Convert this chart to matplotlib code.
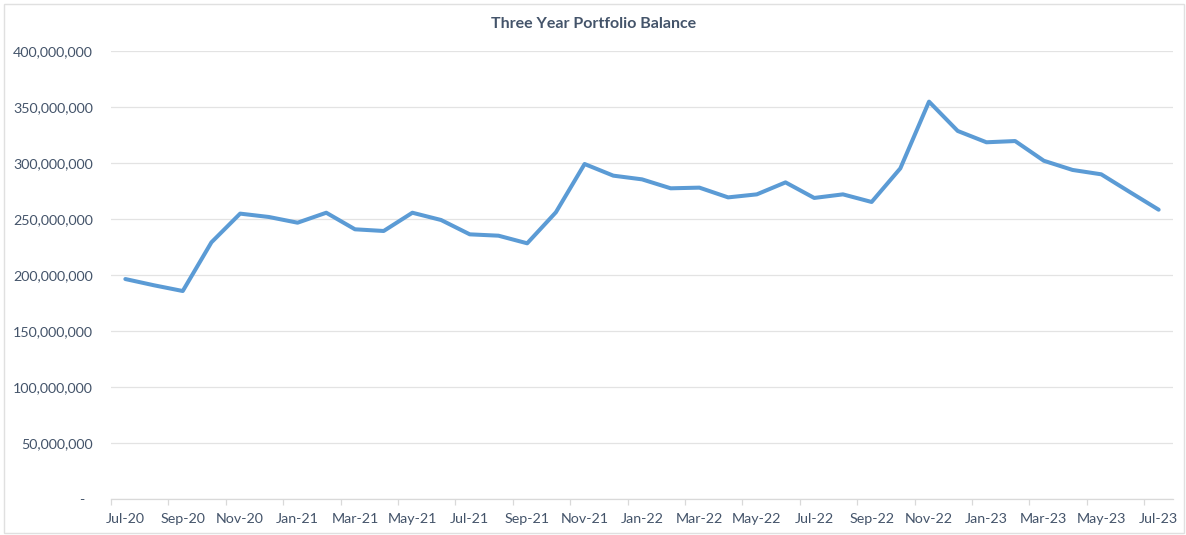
import matplotlib
matplotlib.use("Agg")
import matplotlib.pyplot as plt
from matplotlib.ticker import FuncFormatter, FixedLocator
from matplotlib.patches import Rectangle

months = ["Jul-20", "Aug-20", "Sep-20", "Oct-20", "Nov-20", "Dec-20",
          "Jan-21", "Feb-21", "Mar-21", "Apr-21", "May-21", "Jun-21",
          "Jul-21", "Aug-21", "Sep-21", "Oct-21", "Nov-21", "Dec-21",
          "Jan-22", "Feb-22", "Mar-22", "Apr-22", "May-22", "Jun-22",
          "Jul-22", "Aug-22", "Sep-22", "Oct-22", "Nov-22", "Dec-22",
          "Jan-23", "Feb-23", "Mar-23", "Apr-23", "May-23", "Jun-23",
          "Jul-23"]
balance = [196.4, 190.8, 185.7, 229.2, 254.8, 251.8, 246.7, 255.6, 240.8,
           239.3, 255.6, 249.1, 236.3, 235.1, 228.3, 256.0, 299.1, 288.7,
           285.4, 277.4, 278.0, 269.3, 272.0, 282.7, 268.8, 272.0, 265.2,
           295.2, 354.8, 328.6, 318.5, 319.6, 302.0, 293.8, 289.9, 274.0,
           258.3]
balance = [v * 1e6 for v in balance]
yticks = [0, 50e6, 100e6, 150e6, 200e6, 250e6, 300e6, 350e6, 400e6]
title = "Three Year Portfolio Balance"

plt.rcParams['font.family'] = ['Lato', 'DejaVu Sans']
text_color = "#44546A"
grid_color = "#E3E3E3"

fig = plt.figure(figsize=(11.86, 5.35), dpi=100)
fig.patches.append(Rectangle((4/1186, 2/535), 1180/1186, 529/535,
                             transform=fig.transFigure, fill=False,
                             edgecolor="#E0E0E0", linewidth=1))
ax = fig.add_axes([111/1186, 1 - 499/535, (1173 - 111)/1186, (499 - 51)/535])

x = list(range(len(months)))
ax.plot(x, balance, color="#5B9BD5", linewidth=2.9, solid_joinstyle="round",
        solid_capstyle="round", zorder=3)

ax.set_xlim(-0.5, len(months) - 0.5)
ax.set_ylim(0, 400e6)
ax.set_yticks(yticks)
ax.yaxis.set_major_formatter(FuncFormatter(
    lambda v, p: "-  " if v == 0 else f"{v:,.0f}"))
ax.grid(axis="y", color=grid_color, linewidth=0.9)
ax.set_axisbelow(True)

major = list(range(0, len(months), 2))
ax.xaxis.set_major_locator(FixedLocator(major))
ax.set_xticklabels([months[i] for i in major])
ax.xaxis.set_minor_locator(FixedLocator([i - 0.5 for i in major]))

for s in ["top", "right", "left"]:
    ax.spines[s].set_visible(False)
ax.spines["bottom"].set_color("#D9D9D9")
ax.spines["bottom"].set_linewidth(0.9)

ax.tick_params(axis="y", length=0, pad=13, labelsize=10.3, labelcolor=text_color)
ax.tick_params(axis="x", which="major", length=0, pad=10, labelsize=10.3,
               labelcolor=text_color)
ax.tick_params(axis="x", which="minor", length=4, width=0.9, color="#D9D9D9",
               direction="out")

fig.text(594/1186, 1 - 24/535, title, ha="center", va="center",
         fontsize=11.5, fontweight="bold", color=text_color)

fig.savefig("out.png", dpi=100)
